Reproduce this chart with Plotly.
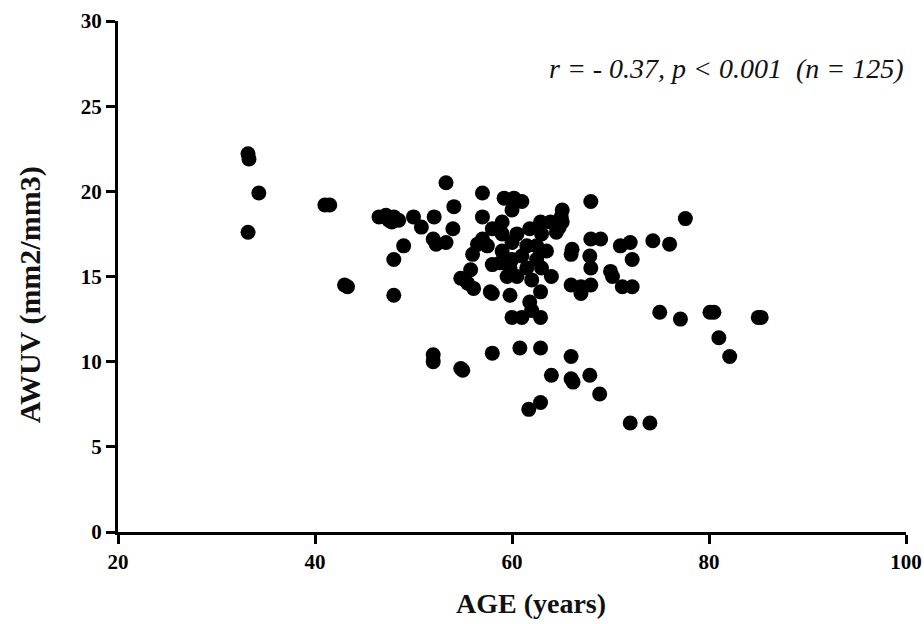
import plotly.graph_objects as go

age = [33.2, 33.3, 34.3, 33.2, 41.0, 41.5, 43.0, 43.3,
       46.5, 47.2, 47.5, 48.0, 47.8, 48.5, 50.0, 49.0, 48.0, 48.0, 50.8, 52.1,
       52.0, 52.3, 53.3, 53.3, 54.1, 54.0, 52.0, 52.0, 54.8, 55.0,
       54.8, 55.5, 56.0, 55.8, 56.1, 57.0, 57.0, 57.0, 58.0, 57.5,
       58.0, 58.0, 58.0, 59.2, 60.2, 61.0, 60.0, 59.0, 59.0, 60.0,
       59.0, 60.0, 58.8, 59.8, 60.5, 59.8, 60.0, 61.0, 60.8, 61.8,
       61.5, 62.5, 61.8, 62.0, 62.9, 62.9, 62.9, 61.7, 62.9, 62.9,
       63.9, 63.0, 63.5, 63.0, 64.0, 62.5, 64.0, 65.1, 65.1, 64.5,
       66.1, 66.0, 66.0, 67.0, 67.0, 66.0, 66.0, 66.2, 67.9, 68.9,
       68.0, 68.0, 69.0, 67.9, 68.0, 68.0, 70.0, 70.2, 71.0, 72.2,
       71.2, 72.2, 72.0, 72.0, 74.0, 74.3, 76.0, 77.6, 75.0, 77.1,
       80.1, 80.5, 81.0, 82.1, 85.0, 85.3, 64.8, 65.0, 56.5, 61.0,
       57.8, 62.0, 60.5, 59.5, 61.5]
awuv = [22.2, 21.9, 19.9, 17.6, 19.2, 19.2, 14.5, 14.4,
        18.5, 18.6, 18.3, 18.5, 18.2, 18.3, 18.5, 16.8, 16.0, 13.9, 17.9, 18.5,
        17.2, 16.9, 17.0, 20.5, 19.1, 17.8, 10.4, 10.0, 9.6, 9.5,
        14.9, 14.6, 16.3, 15.4, 14.3, 19.9, 18.5, 17.2, 17.8, 16.8,
        14.0, 15.7, 10.5, 19.6, 19.6, 19.4, 18.9, 18.2, 17.5, 17.0,
        16.5, 16.0, 15.8, 15.5, 15.0, 13.9, 12.6, 12.6, 10.8, 17.8,
        16.8, 16.8, 13.5, 14.8, 14.1, 12.6, 10.8, 7.2, 7.6, 18.2,
        18.2, 17.5, 16.5, 15.5, 15.0, 16.0, 9.2, 18.9, 18.2, 17.6,
        16.6, 16.3, 14.5, 14.0, 14.4, 10.3, 9.0, 8.8, 9.2, 8.1,
        19.4, 17.2, 17.2, 16.2, 15.5, 14.5, 15.3, 15.0, 16.8, 16.0,
        14.4, 14.4, 17.0, 6.4, 6.4, 17.1, 16.9, 18.4, 12.9, 12.5,
        12.9, 12.9, 11.4, 10.3, 12.6, 12.6, 17.9, 18.5, 16.9, 16.2,
        14.1, 13.0, 17.5, 15.0, 15.5]

x_ticks = [20, 40, 60, 80, 100]
y_ticks = [0, 5, 10, 15, 20, 25, 30]
stat_text = "r = - 0.37, p < 0.001  (n = 125)"
x_title = "AGE (years)"
y_title = "AWUV (mm2/mm3)"

fig = go.Figure(go.Scatter(
    x=age, y=awuv, mode="markers",
    marker=dict(color="black", size=15, line=dict(width=0)),
    hoverinfo="x+y", cliponaxis=False))

axis_font = dict(family="Liberation Serif", size=21, color="black")
fig.update_layout(
    width=924, height=624,
    margin=dict(l=118, r=18, t=21, b=92, autoexpand=False),
    paper_bgcolor="white", plot_bgcolor="white",
    showlegend=False,
    xaxis=dict(range=[20, 100], tickvals=x_ticks,
               ticktext=[f"<b>{t}</b>" for t in x_ticks],
               showgrid=False, zeroline=False, showline=True,
               linecolor="black", linewidth=3, ticks="outside",
               ticklen=9, tickwidth=2.5, tickcolor="black",
               tickfont=axis_font, automargin=False),
    yaxis=dict(range=[0, 30], tickvals=y_ticks,
               ticktext=[f"<b>{t}</b>" for t in y_ticks],
               showgrid=False, zeroline=False, showline=True,
               linecolor="black", linewidth=3, ticks="outside",
               ticklen=9, tickwidth=2.5, tickcolor="black",
               tickfont=axis_font, automargin=False),
    annotations=[
        dict(text=f"<i>{stat_text}</i>", xref="paper", yref="paper",
             x=1.0, y=0.908, xanchor="right", yanchor="middle",
             showarrow=False,
             font=dict(family="Liberation Serif", size=28, color="#111")),
        dict(text=f"<b>{x_title}</b>", xref="x", yref="paper",
             x=61.9, y=0, yshift=-71, xanchor="center", yanchor="middle",
             showarrow=False,
             font=dict(family="Liberation Serif", size=28, color="#111")),
        dict(text=f"<b>{y_title}</b>", xref="paper", yref="y",
             x=0, xshift=-88, y=13.9, xanchor="center", yanchor="middle",
             textangle=-90, showarrow=False,
             font=dict(family="Liberation Serif", size=30, color="#111")),
    ],
)

fig.write_html("out.html", config={"displayModeBar": False},
               post_script="document.body.style.margin='0';document.body.style.overflow='hidden';")
